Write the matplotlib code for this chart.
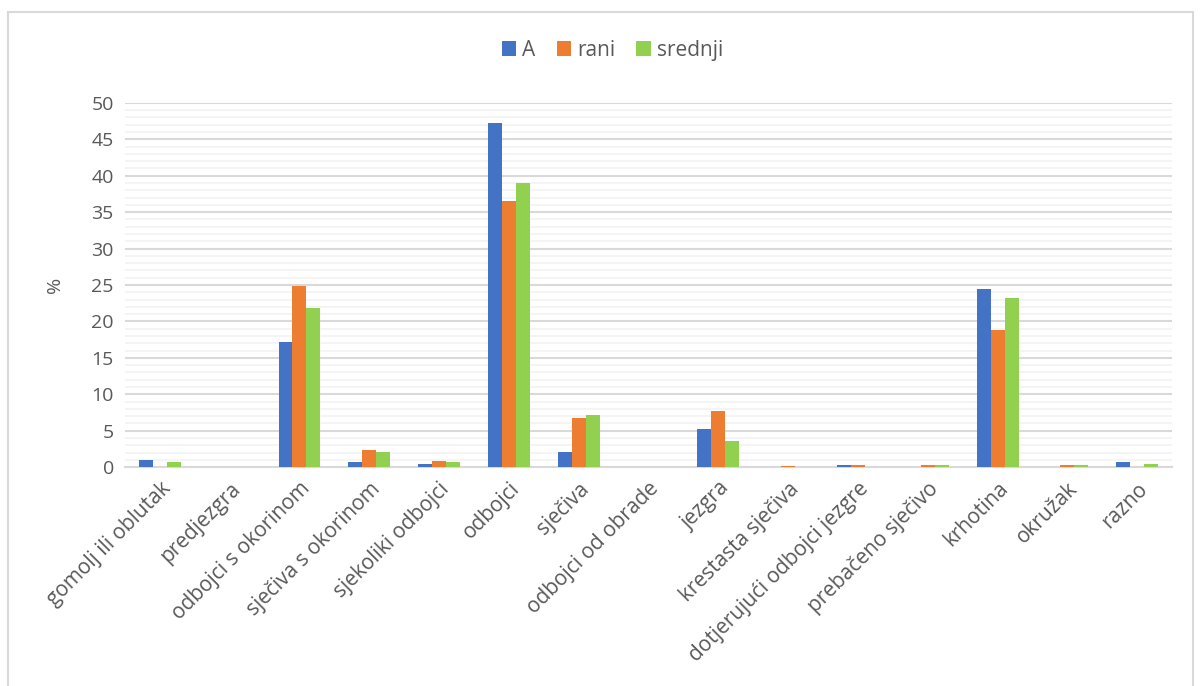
import matplotlib.pyplot as plt
import numpy as np
from matplotlib.patches import Rectangle

categories = ["gomolj ili oblutak", "predjezgra", "odbojci s okorinom",
              "sječiva s okorinom", "sjekoliki odbojci", "odbojci", "sječiva",
              "odbojci od obrade", "jezgra", "krestasta sječiva",
              "dotjerujući odbojci jezgre", "prebačeno sječivo", "krhotina",
              "okružak", "razno"]
A = [1.05, 0, 17.2, 0.65, 0.45, 47.2, 2.1, 0, 5.2, 0, 0.27, 0, 24.4, 0, 0.65]
rani = [0, 0, 24.9, 2.3, 0.78, 36.5, 6.8, 0, 7.65, 0.15, 0.27, 0.27, 18.8, 0.27, 0]
srednji = [0.65, 0, 21.8, 2.06, 0.65, 39.0, 7.2, 0, 3.57, 0, 0.05, 0.27, 23.2, 0.27, 0.4]

series = [("A", A, "#4472C4"), ("rani", rani, "#ED7D31"), ("srednji", srednji, "#92D050")]
text_col = "#595959"

plt.rcParams['font.family'] = ['Open Sans', 'DejaVu Sans']

fig = plt.figure(figsize=(12.01, 6.86), dpi=100)
ax = fig.add_axes([0.104, 0.319, 0.872, 0.531])

# outer chart border
fig.patches.append(Rectangle((8 / 1201, -0.05), 1185 / 1201, 1.05 - 12 / 686,
                             transform=fig.transFigure, fill=False,
                             ec="#D9D9D9", lw=1.5))

x = np.arange(len(categories))
w = 0.2
for i, (name, vals, col) in enumerate(series):
    ax.bar(x + (i - 1) * w, vals, w, color=col, label=name, zorder=3)

ax.set_xlim(-0.5, len(categories) - 0.5)
ax.set_ylim(0, 50)
ax.set_yticks(np.arange(0, 51, 5))
ax.set_yticks(np.arange(0, 51, 1), minor=True)
ax.grid(axis="y", which="major", color="#D9D9D9", lw=1.5, zorder=0)
ax.grid(axis="y", which="minor", color="#F2F2F2", lw=1.2, zorder=0)
for s in ["top", "right", "left"]:
    ax.spines[s].set_visible(False)
ax.spines["bottom"].set_color("#D9D9D9")
ax.spines["bottom"].set_linewidth(1.5)
ax.tick_params(axis="both", which="both", length=0, colors=text_col)
ax.tick_params(axis="y", labelsize=14, pad=8)

ax.set_xticks(x)
ax.set_xticklabels(categories, rotation=45, ha="right", rotation_mode="anchor")
ax.tick_params(axis="x", labelsize=15, pad=8)

ax.set_ylabel("%", color=text_col, fontsize=14, labelpad=20)

fig.legend(handles=ax.get_legend_handles_labels()[0], labels=ax.get_legend_handles_labels()[1],
           loc="center", bbox_to_anchor=(0.51, 0.927), ncol=3, frameon=False,
           fontsize=15, labelcolor=text_col, handlelength=0.7, handleheight=0.7,
           handletextpad=0.3, columnspacing=1.0)

fig.savefig("out.png", dpi=100)
